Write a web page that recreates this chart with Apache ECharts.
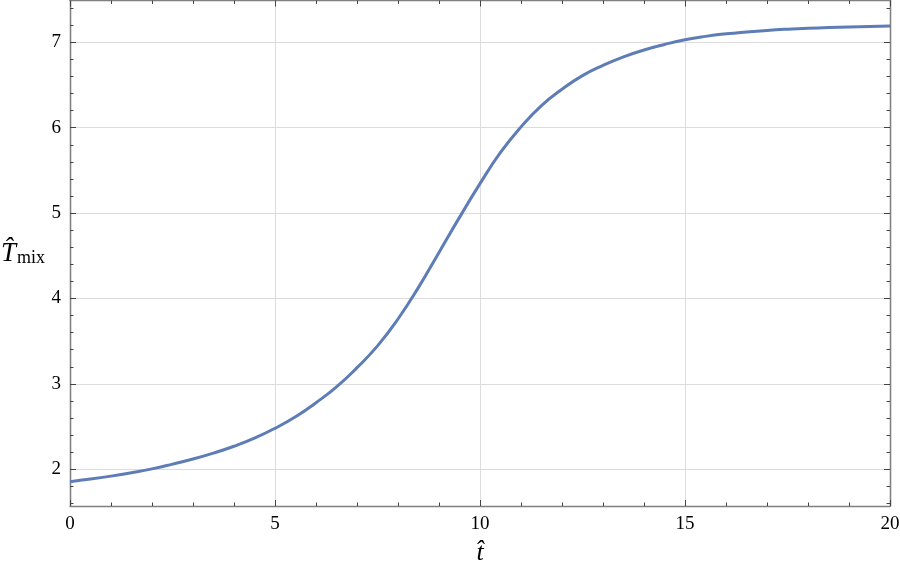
<!DOCTYPE html>
<html>
<head>
<meta charset="utf-8">
<script src="https://cdn.jsdelivr.net/npm/echarts@6/dist/echarts.min.js"></script>
<style>
  html, body { margin: 0; padding: 0; background: #fff; }
  #chart { width: 900px; height: 581px; }
</style>
</head>
<body>
<div id="chart"></div>
<script>
// curve, every half step of t
const tValues = [0, 0.5, 1, 1.5, 2, 2.5, 3, 3.5, 4, 4.5, 5, 5.5, 6, 6.5, 7, 7.5, 8, 8.5, 9, 9.5,
  10, 10.5, 11, 11.5, 12, 12.5, 13, 13.5, 14, 14.5, 15, 15.5, 16, 16.5, 17, 17.5, 18, 18.5, 19, 19.5, 20]
const tMix = [1.855, 1.885, 1.92, 1.96, 2.005, 2.06, 2.12, 2.19, 2.27, 2.365, 2.48, 2.615, 2.78, 2.965, 3.19, 3.445, 3.76, 4.13, 4.54, 4.95,
  5.345, 5.71, 6.01, 6.26, 6.45, 6.61, 6.73, 6.83, 6.91, 6.975, 7.03, 7.07, 7.10, 7.122, 7.14, 7.154, 7.165, 7.173, 7.18, 7.186, 7.19]

const yMajor = [2, 3, 4, 5, 6, 7]
const yMinor = [1.6, 1.8, 2.2, 2.4, 2.6, 2.8, 3.2, 3.4, 3.6, 3.8, 4.2, 4.4, 4.6, 4.8,
  5.2, 5.4, 5.6, 5.8, 6.2, 6.4, 6.6, 6.8, 7.2, 7.4]

const Y_MIN = 1.57
const Y_MAX = 7.49
const FONT = 'Liberation Serif'
const AXIS_COLOR = '#808080'
const TICK_COLOR = '#444'

const chart = echarts.init(document.getElementById('chart'))

function xAxisDef(position, show) {
  return {
    type: 'value', position, min: 0, max: 20, interval: 5,
    axisLine: { show: true, onZero: false, lineStyle: { color: AXIS_COLOR, width: 1.3 } },
    axisTick: { show: true, inside: true, length: 6, lineStyle: { color: TICK_COLOR } },
    minorTick: { show: true, splitNumber: 5, length: 3.5, lineStyle: { color: TICK_COLOR } },
    axisLabel: { show, margin: 9, color: '#000', fontFamily: FONT, fontSize: 19 },
    splitLine: { show: show, lineStyle: { color: '#dcdcdc', width: 1 } },
    minorSplitLine: { show: false }
  }
}

function yAxisDef(position, values, len, main) {
  return {
    type: 'value', position, min: Y_MIN, max: Y_MAX,
    axisLine: { show: true, onZero: false, lineStyle: { color: AXIS_COLOR, width: 1.3 } },
    axisTick: { show: true, inside: true, length: len, customValues: values, lineStyle: { color: TICK_COLOR } },
    axisLabel: {
      show: main && position === 'left', customValues: yMajor, margin: 9,
      color: '#000', fontFamily: FONT, fontSize: 19
    },
    splitLine: { show: main && position === 'left', lineStyle: { color: '#dcdcdc', width: 1 } }
  }
}

const xAxisMain = xAxisDef('bottom', true)
xAxisMain.name = 't\u0302'
xAxisMain.nameLocation = 'middle'
xAxisMain.nameGap = 34
xAxisMain.nameTextStyle = { fontFamily: FONT, fontStyle: 'italic', fontSize: 26, color: '#000' }

const yAxisMain = yAxisDef('left', yMajor, 6, true)
yAxisMain.name = '{t|T\u0302}{s|mix}'
yAxisMain.nameLocation = 'middle'
yAxisMain.nameRotate = 0
yAxisMain.nameGap = 25
yAxisMain.nameTextStyle = {
  rich: {
    t: { fontFamily: FONT, fontStyle: 'italic', fontSize: 27, color: '#000', verticalAlign: 'bottom' },
    s: { fontFamily: FONT, fontSize: 18, color: '#000', padding: [10, 0, 0, 1], verticalAlign: 'bottom' }
  }
}

chart.setOption({
  animation: false,
  backgroundColor: '#fff',
  grid: { left: 70, right: 10, top: 0.5, bottom: 75, outerBoundsMode: 'none' },
  xAxis: [
    xAxisMain,
    xAxisDef('top', false)
  ],
  yAxis: [
    yAxisMain,
    yAxisDef('left', yMinor, 3.5, false),
    yAxisDef('right', yMajor, 6, true),
    yAxisDef('right', yMinor, 3.5, false)
  ],
  series: [{
    type: 'line',
    xAxisIndex: 0,
    yAxisIndex: 0,
    data: tValues.map((t, i) => [t, tMix[i]]),
    smooth: true,
    showSymbol: false,
    lineStyle: { color: '#5e7db6', width: 3 }
  }]
})
</script>
</body>
</html>
